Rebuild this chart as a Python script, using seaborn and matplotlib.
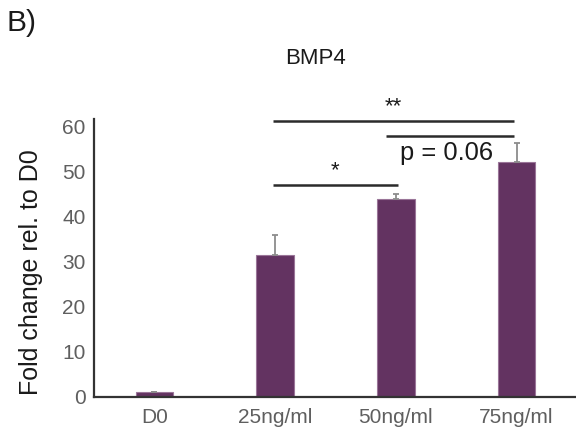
import matplotlib
matplotlib.use("Agg")
import matplotlib.pyplot as plt
import seaborn as sns
import pandas as pd

# Expression of BMP4 across treatment doses
categories = ["D0", "25ng/ml", "50ng/ml", "75ng/ml"]
fold_change = [1.0, 31.5, 43.9, 52.2]
upper_error = [0.1, 4.4, 1.1, 4.1]

# Significance brackets: (first group, second group, height, label)
brackets = [
    ("25ng/ml", "50ng/ml", 47.0, "*"),
    ("50ng/ml", "75ng/ml", 57.9, "p = 0.06"),
    ("25ng/ml", "75ng/ml", 61.2, "**"),
]

sns.set_theme(style="white")
plt.rcParams["font.family"] = ["Liberation Sans", "DejaVu Sans"]

df = pd.DataFrame({"group": categories, "value": fold_change})

fig = plt.figure(figsize=(5.76, 4.36), dpi=100)
ax = fig.add_axes([0.1632, 0.0901, 0.8385, 0.637])

bar_color = "#633361"
sns.barplot(data=df, x="group", y="value", color=bar_color, width=0.31,
            edgecolor="#9a7598", linewidth=0.8, saturation=1, errorbar=None, ax=ax)

xs = range(len(categories))
ax.errorbar(list(xs), fold_change, yerr=[[0] * len(categories), upper_error],
            fmt="none", ecolor="#8c8c8c", elinewidth=1.3, capsize=2.2, capthick=1.3,
            zorder=1)

pos = {c: i for i, c in enumerate(categories)}
for a, b, h, label in brackets:
    xa, xb = pos[a] - 0.02, pos[b] - 0.02
    if label == "p = 0.06":
        xa = pos[a] - 0.08
    if label == "*":
        xb = pos[b] + 0.02
    ax.plot([xa, xb], [h, h], color="#2b2b2b", lw=1.8, clip_on=False,
            solid_capstyle="butt")
    if label == "p = 0.06":
        ax.text((xa + xb) / 2 - 0.03, h - 1.1, label, ha="center", va="top",
                fontsize=18.4, color="#1a1a1a")
    else:
        ax.text((xa + xb) / 2, h + 0.8, label, ha="center", va="bottom",
                fontsize=16, color="#1a1a1a")

ax.set_xlim(-0.5, 3.5)
ax.set_ylim(0, 61.7)
ax.set_yticks([0, 10, 20, 30, 40, 50, 60])
ax.set_xlabel("")
ax.set_ylabel("Fold change rel. to D0", fontsize=18, color="#1a1a1a")
ax.yaxis.set_label_coords(-0.106, 0.449)

ax.tick_params(axis="both", length=0, labelsize=15, labelcolor="#5f5f5f")
ax.tick_params(axis="y", pad=6)
ax.tick_params(axis="x", pad=8)

for side in ["top", "right"]:
    ax.spines[side].set_visible(False)
for side in ["left", "bottom"]:
    ax.spines[side].set_color("#333333")
    ax.spines[side].set_linewidth(1.6)

fig.text(0.547, 0.865, "BMP4", ha="center", va="center", fontsize=16, color="#1a1a1a")
fig.text(0.012, 0.948, "B)", ha="left", va="center", fontsize=21.5, color="#1a1a1a")

fig.savefig("out.png", dpi=100, facecolor="white")
